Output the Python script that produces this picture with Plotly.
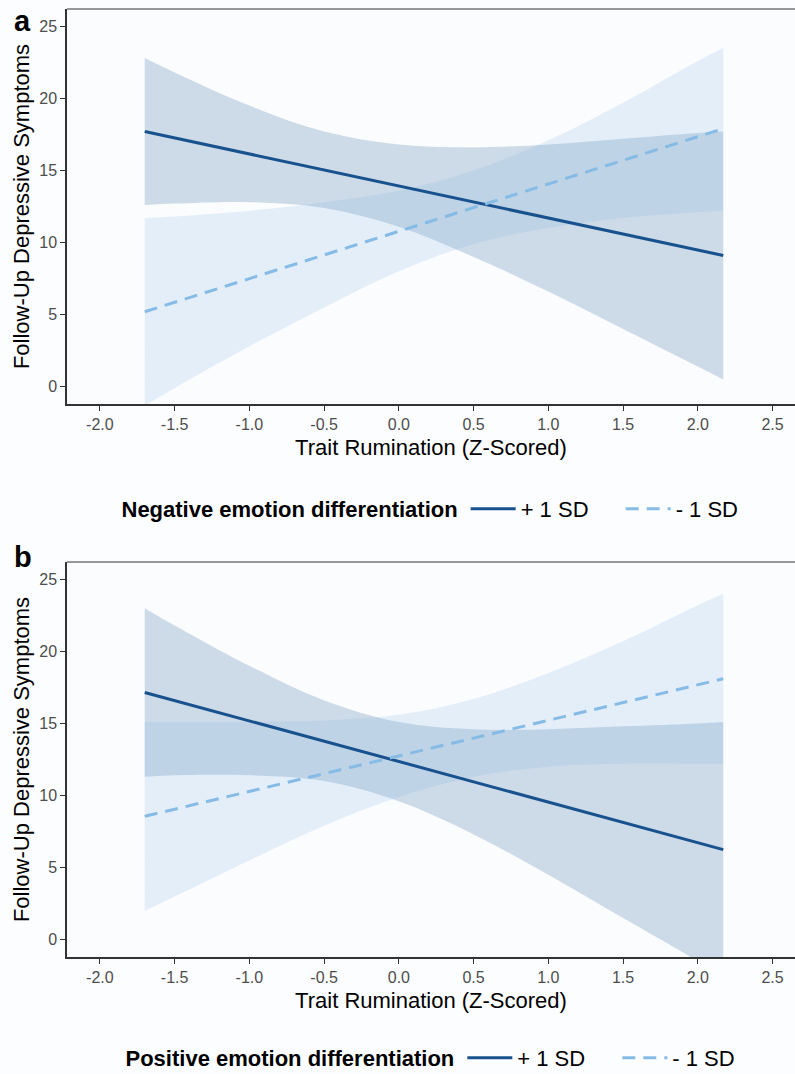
import plotly.graph_objects as go

# ---------------- data ----------------
x_grid = [-1.7, -1.5, -1.0, -0.5, 0.0, 0.5, 1.0, 1.5, 2.0, 2.17]
x_line = [-1.7, 2.17]

# Panel a: Negative emotion differentiation
a_pos_line = [17.7, 9.1]
a_neg_line = [5.2, 17.9]
a_pos_lo = [12.6, 12.7, 12.8, 12.4, 11.1, 9.0, 6.6, 4.0, 1.4, 0.5]
a_pos_hi = [22.8, 21.8, 19.5, 17.7, 16.8, 16.6, 16.8, 17.2, 17.6, 17.7]
a_neg_lo = [-1.3, -0.1, 2.8, 5.5, 8.0, 9.9, 11.0, 11.7, 12.1, 12.2]
a_neg_hi = [11.7, 11.8, 12.2, 12.8, 13.6, 15.0, 17.1, 19.7, 22.6, 23.5]

# Panel b: Positive emotion differentiation
b_pos_line = [17.15, 6.25]
b_neg_line = [8.56, 18.1]
b_pos_lo = [11.3, 11.4, 11.4, 11.0, 9.6, 7.3, 4.5, 1.5, -1.5, -2.6]
b_pos_hi = [23.0, 21.8, 19.0, 16.6, 15.1, 14.6, 14.6, 14.8, 15.0, 15.1]
b_neg_lo = [2.0, 3.0, 5.5, 7.9, 9.9, 11.3, 12.0, 12.2, 12.2, 12.2]
b_neg_hi = [15.1, 15.1, 15.1, 15.2, 15.6, 16.7, 18.5, 20.7, 23.2, 24.0]

legend_titles = ["Negative emotion differentiation", "Positive emotion differentiation"]
series_names = ["+ 1 SD", "- 1 SD"]
panel_labels = ["a", "b"]

x_tickvals = [-2.0, -1.5, -1.0, -0.5, 0.0, 0.5, 1.0, 1.5, 2.0, 2.5]
x_ticktext = ["-2.0", "-1.5", "-1.0", "-0.5", "0.0", "0.5", "1.0", "1.5", "2.0", "2.5"]
y_tickvals = [0, 5, 10, 15, 20, 25]
y_ticktext = ["0", "5", "10", "15", "20", "25"]

x_title = "Trait Rumination (Z-Scored)"
y_title = "Follow-Up Depressive Symptoms"

# ---------------- styling ----------------
W, H = 795, 1074
DARK = "rgb(24,82,142)"
LIGHT = "rgb(133,187,229)"
DARK_FILL = "rgba(26,84,144,0.2)"
LIGHT_FILL = "rgba(133,187,229,0.2)"
FONT = "Liberation Sans, Arial, sans-serif"

fig = go.Figure()

panels = [
    dict(xa="x", ya="y", leg="legend", pos_line=a_pos_line, neg_line=a_neg_line,
         pos_lo=a_pos_lo, pos_hi=a_pos_hi, neg_lo=a_neg_lo, neg_hi=a_neg_hi),
    dict(xa="x2", ya="y2", leg="legend2", pos_line=b_pos_line, neg_line=b_neg_line,
         pos_lo=b_pos_lo, pos_hi=b_pos_hi, neg_lo=b_neg_lo, neg_hi=b_neg_hi),
]

for p in panels:
    common = dict(xaxis=p["xa"], yaxis=p["ya"], hoverinfo="skip", showlegend=False, legend=p["leg"])
    fig.add_trace(go.Scatter(x=x_grid, y=p["pos_lo"], mode="lines", line=dict(width=0, shape="spline"), **common))
    fig.add_trace(go.Scatter(x=x_grid, y=p["pos_hi"], mode="lines", line=dict(width=0, shape="spline"),
                             fill="tonexty", fillcolor=DARK_FILL, **common))
    fig.add_trace(go.Scatter(x=x_grid, y=p["neg_lo"], mode="lines", line=dict(width=0, shape="spline"), **common))
    fig.add_trace(go.Scatter(x=x_grid, y=p["neg_hi"], mode="lines", line=dict(width=0, shape="spline"),
                             fill="tonexty", fillcolor=LIGHT_FILL, **common))
    fig.add_trace(go.Scatter(x=x_line, y=p["pos_line"], mode="lines", name=series_names[0],
                             line=dict(color=DARK, width=3), xaxis=p["xa"], yaxis=p["ya"], legend=p["leg"]))
    fig.add_trace(go.Scatter(x=x_line, y=p["neg_line"], mode="lines", name=series_names[1],
                             line=dict(color=LIGHT, width=3, dash="13px,8px"), xaxis=p["xa"], yaxis=p["ya"],
                             legend=p["leg"]))

x_dom = [67 / W, 1.0]
ya_dom = [(H - 404) / H, (H - 9) / H]
yb_dom = [(H - 957) / H, (H - 562) / H]

def xaxis_cfg(anchor):
    return dict(domain=x_dom, anchor=anchor, range=[-2.22, 2.65], tickvals=x_tickvals, ticktext=x_ticktext,
                showline=True, linecolor="#333333", linewidth=1.5, ticks="outside", ticklen=5,
                tickcolor="#333333", tickwidth=1.2, showgrid=False, zeroline=False, automargin=False,
                tickfont=dict(size=16, color="#4d4d4d", family=FONT),
                title=dict(text=x_title, font=dict(size=22, color="black", family=FONT), standoff=8))

def yaxis_cfg(anchor, dom):
    return dict(domain=dom, anchor=anchor, range=[-1.2, 26.2], tickvals=y_tickvals, ticktext=y_ticktext,
                showline=True, linecolor="#333333", linewidth=1.5, ticks="outside", ticklen=5,
                tickcolor="#333333", tickwidth=1.2, showgrid=False, zeroline=False, automargin=False,
                tickfont=dict(size=16, color="#4d4d4d", family=FONT),
                title=dict(text=y_title, font=dict(size=22, color="black", family=FONT), standoff=4))

def legend_cfg(title, ycenter):
    return dict(orientation="h", x=448 / W, xanchor="center", y=(H - ycenter) / H, yanchor="middle",
                traceorder="normal", itemwidth=45,
                title=dict(text="<b>" + title + "</b>", side="left", font=dict(size=22, color="black", family=FONT)),
                font=dict(size=22, color="black", family=FONT), bgcolor="rgba(0,0,0,0)",
                entrywidth=95, entrywidthmode="pixels")

fig.update_layout(
    width=W, height=H, margin=dict(l=0, r=0, t=0, b=0, autoexpand=False),
    paper_bgcolor="#fcfdfe", plot_bgcolor="#fbfcfe",
    font=dict(family=FONT, color="black"),
    xaxis=xaxis_cfg("y"), yaxis=yaxis_cfg("x", ya_dom),
    xaxis2=xaxis_cfg("y2"), yaxis2=yaxis_cfg("x2", yb_dom),
    legend=legend_cfg(legend_titles[0], 509),
    legend2=legend_cfg(legend_titles[1], 1058),
    shapes=[
        dict(type="line", xref="x domain", yref="y domain", x0=0, x1=1, y0=1, y1=1,
             line=dict(color="#333333", width=1.2)),
        dict(type="line", xref="x2 domain", yref="y2 domain", x0=0, x1=1, y0=1, y1=1,
             line=dict(color="#333333", width=1.2)),
    ],
    annotations=[
        dict(text="<b>" + panel_labels[0] + "</b>", xref="paper", yref="paper", x=12 / W, y=(H - 21) / H,
             xanchor="left", yanchor="middle", showarrow=False, font=dict(size=29, color="black", family=FONT)),
        dict(text="<b>" + panel_labels[1] + "</b>", xref="paper", yref="paper", x=12 / W, y=(H - 557) / H,
             xanchor="left", yanchor="middle", showarrow=False, font=dict(size=29, color="black", family=FONT)),
    ],
)

# remove the browser's default 8px page margin so the figure fills the window exactly
fig.write_html("out.html", config={"displayModeBar": False},
               post_script="document.body.style.margin='0px';")
